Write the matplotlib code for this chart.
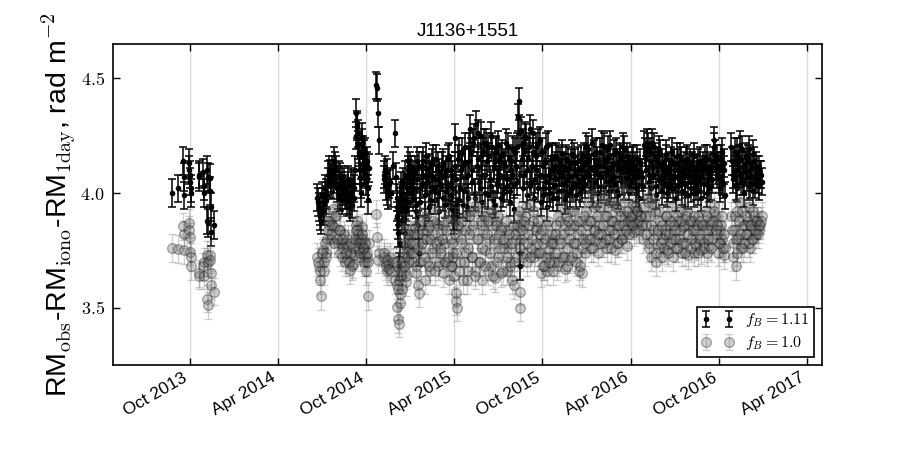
import datetime as dt
import matplotlib
matplotlib.use("Agg")
import matplotlib.pyplot as plt
import matplotlib.dates as mdates
from matplotlib.ticker import FormatStrFormatter

plt.rcParams['mathtext.fontset'] = 'cm'
plt.rcParams['font.family'] = ['Liberation Sans', 'DejaVu Sans']

# days counted from 2013-10-01
base_date = dt.date(2013, 10, 1)

days_s1 = [-36, -25, -14, -13, -12, -2, -1, 0, 1, 2, 3, 18, 19, 28, 29, 30, 35, 36, 37, 38,
           41, 42, 43, 44, 50]
rm111_s1 = [4.00, 4.02, 4.14, 4.07, 3.99, 4.13, 4.10, 4.08, 4.05, 4.02, 4.00, 4.08, 4.07, 4.09, 4.03,
            4.00, 4.10, 3.88, 3.87, 4.07, 4.065, 4.01, 3.94, 3.83, 3.86]
rm100_s1 = [3.76, 3.755, 3.855, 3.82, 3.75, 3.87, 3.84, 3.81, 3.745, 3.72, 3.68, 3.65, 3.64, 3.68, 3.64,
            3.70, 3.73, 3.54, 3.51, 3.70, 3.73, 3.71, 3.65, 3.60, 3.57]

days_s2 = [264, 267, 270, 272, 275, 278, 281, 284, 287,
           290, 293, 296, 299, 302, 306, 310, 313, 316, 319,
           322, 325, 328, 331, 334, 337, 340,
           344, 346, 348, 350, 352, 354,
           356, 358, 360, 362, 364, 366, 368, 371,
           385, 387, 389, 391,
           402, 405, 408, 411, 414, 424, 426,
           428, 430, 432, 434, 436, 438, 440, 442, 444, 446, 448, 450, 452, 454, 457]
rm111_s2 = [3.98, 3.94, 3.90, 3.88, 3.96, 3.92, 4.00, 3.99, 4.05,
            4.085, 4.065, 4.035, 4.14, 4.10, 3.99, 4.07, 4.03, 3.97, 4.05,
            4.02, 3.96, 4.06, 3.94, 4.00, 4.04, 3.98,
            4.35, 4.29, 4.21, 4.18, 4.07, 4.00,
            4.245, 4.19, 4.17, 4.115, 4.08, 4.14, 3.97, 4.11,
            4.47, 4.46, 4.35, 4.23,
            4.08, 4.10, 4.01, 3.99, 4.05, 4.26, 4.07,
            3.94, 3.90, 3.825, 3.68, 3.96, 4.03, 3.99, 3.94, 3.90, 3.825, 3.94, 4.00, 4.14, 4.085, 4.10]
rm100_s2 = [3.72, 3.68, 3.66, 3.55, 3.75, 3.70, 3.74, 3.80, 3.88,
            3.88, 3.80, 3.93, 3.85, 3.90, 3.78, 3.84, 3.78, 3.72, 3.82,
            3.78, 3.71, 3.80, 3.665, 3.74, 3.69, 3.76,
            3.86, 3.88, 3.80, 3.75, 3.72, 3.78,
            3.85, 3.80, 3.76, 3.73, 3.70, 3.72, 3.55, 3.78,
            3.91, 3.81, 3.71, 3.74,
            3.74, 3.70, 3.66, 3.69, 3.72, 3.62, 3.70,
            3.60, 3.505, 3.45, 3.43, 3.56, 3.64, 3.70, 3.85, 3.72, 3.66, 3.61, 3.76, 3.80, 3.75, 3.82]

days_s2b = [266, 269, 274, 277, 280, 283, 286, 289,
            292, 295, 298, 301, 304, 308, 312, 315, 318, 321,
            324, 327, 330, 333, 336, 339, 342, 345,
            347, 349, 351, 353, 355, 357, 359, 361, 363, 365, 367, 369,
            403, 406, 409, 412, 416, 420,
            429, 431, 433, 435, 437, 439, 441, 443, 445, 447, 449, 451, 453, 455, 456, 458]
rm111_s2b = [3.96, 3.92, 3.99, 3.94, 4.02, 3.97, 4.08, 4.10,
             4.04, 4.10, 4.06, 4.12, 4.02, 4.08, 3.98, 4.06, 4.01, 3.99,
             3.99, 4.03, 3.97, 4.05, 3.95, 4.02, 4.10, 4.25,
             4.30, 4.26, 4.16, 4.10, 4.04, 4.22, 4.13, 4.09, 4.18, 4.05, 4.12, 4.02,
             4.06, 4.03, 4.09, 4.04, 4.00, 4.12,
             3.98, 3.86, 3.92, 3.78, 4.00, 3.88, 4.05, 3.97, 4.08, 3.92, 4.02, 4.10, 3.96, 4.12, 4.06, 4.00]
rm100_s2b = [3.70, 3.62, 3.74, 3.66, 3.78, 3.72, 3.84, 3.86,
             3.82, 3.86, 3.78, 3.90, 3.80, 3.84, 3.74, 3.80, 3.76, 3.70,
             3.74, 3.77, 3.70, 3.78, 3.68, 3.73, 3.80, 3.84,
             3.84, 3.82, 3.78, 3.74, 3.80, 3.82, 3.76, 3.70, 3.78, 3.66, 3.74, 3.70,
             3.72, 3.68, 3.71, 3.67, 3.66, 3.70,
             3.68, 3.58, 3.62, 3.52, 3.66, 3.58, 3.74, 3.68, 3.78, 3.64, 3.72, 3.82, 3.70, 3.84, 3.78, 3.74]

days_s3 = [460, 463, 466, 469, 471, 473, 475, 477, 480, 483, 486, 489, 492, 495, 498, 501, 504, 507, 510, 513, 516,
           519, 522, 525, 528, 531, 534, 537, 540, 543, 545, 547,
           550, 551, 552, 554, 557, 560, 563, 566, 569, 572, 575, 578,
           581, 584, 587, 590, 593, 596, 599, 602, 605, 608, 611, 614, 617, 620, 623, 626, 629, 632, 635, 638,
           641, 644, 647, 650,
           653, 656, 659, 662, 665, 668, 671, 674, 677, 680, 682, 683, 684, 686,
           689, 692, 695, 698, 701, 704, 707, 710, 713, 716, 719, 722]
rm111_s3 = [4.05, 3.98, 4.10, 3.95, 4.14, 3.86, 3.74, 4.02, 4.12, 4.08, 3.99, 4.16, 4.05, 4.11, 3.97, 4.13, 4.06,
            4.02, 4.15, 4.00, 4.09,
            4.04, 4.12, 3.98, 4.08, 4.01, 4.15, 3.96, 4.10, 3.93, 3.90, 3.88,
            4.24, 3.95, 3.92, 3.90, 4.18, 4.02, 4.12, 3.95, 4.20, 4.07, 3.98, 4.14,
            4.28, 4.10, 4.22, 4.00, 4.30, 4.15, 4.05, 4.25, 3.96, 4.18, 4.08, 4.22, 3.99, 4.16, 4.03, 4.20, 4.11,
            3.95, 4.19, 4.06, 4.14, 3.98, 4.17, 4.02,
            4.12, 4.03, 4.20, 3.96, 4.14, 4.08, 3.93, 4.18, 4.05, 4.33, 4.40, 3.74, 3.68, 4.27,
            4.22, 4.08, 4.25, 3.99, 4.15, 4.28, 4.05, 4.18, 3.98, 4.20, 4.10, 4.02]
rm100_s3 = [3.78, 3.70, 3.85, 3.65, 3.82, 3.60, 3.565, 3.75, 3.88, 3.80, 3.72, 3.90, 3.70, 3.85, 3.66, 3.82, 3.76,
            3.93, 3.87, 3.68, 3.79,
            3.74, 3.84, 3.65, 3.78, 3.70, 3.88, 3.62, 3.80, 3.68, 3.72, 3.64,
            3.88, 3.565, 3.53, 3.50, 3.85, 3.70, 3.78, 3.62, 3.90, 3.74, 3.66, 3.82,
            3.92, 3.72, 3.86, 3.64, 3.95, 3.80, 3.70, 3.88, 3.62, 3.84, 3.75, 3.90, 3.66, 3.80, 3.68, 3.86, 3.78,
            3.63, 3.88, 3.72, 3.82, 3.65, 3.85, 3.76,
            3.78, 3.66, 3.84, 3.70, 3.76, 3.62, 3.60, 3.82, 3.72, 3.90, 3.85, 3.57, 3.50, 3.80,
            3.86, 3.74, 3.90, 3.70, 3.82, 3.95, 3.76, 3.88, 3.72, 3.85, 3.78, 3.74]

days_s3b = [462, 465, 468, 471, 474, 477, 480, 483, 486, 489,
            492, 495, 498, 501, 504, 507, 510, 513, 516, 519,
            522, 525, 528, 531, 534, 537, 540, 543, 546, 549,
            552, 555, 558, 561, 564, 567, 570, 573, 576, 579,
            582, 585, 588, 591, 594, 597, 600, 603, 606, 609,
            612, 615, 618, 621, 624, 627, 630, 633, 636, 639,
            642, 645, 648, 651, 654, 657, 660, 663, 666, 669,
            672, 675, 678, 681, 684, 687, 690, 693, 696, 699,
            702, 705, 708, 711, 714, 717, 720]
rm111_s3b = [4.08, 4.02, 3.92, 4.06, 4.12, 3.96, 4.04, 4.14, 3.90, 4.07,
             4.10, 3.94, 4.08, 4.01, 4.15, 3.97, 4.06, 4.12, 3.92, 4.04,
             4.07, 4.13, 3.95, 4.10, 4.03, 4.16, 3.99, 4.08, 4.02, 4.12,
             4.06, 4.15, 3.97, 4.10, 4.18, 4.01, 4.13, 3.94, 4.08, 4.20,
             4.18, 4.05, 4.24, 3.98, 4.12, 4.26, 4.02, 4.16, 4.08, 4.22,
             4.00, 4.14, 4.20, 4.06, 4.25, 3.97, 4.12, 4.18, 4.04, 4.21,
             4.08, 4.16, 4.00, 4.13, 4.22, 4.06, 4.15, 4.01, 4.10, 4.19,
             4.04, 4.12, 4.20, 4.26, 4.08, 4.15, 4.02, 4.18, 4.24, 4.10,
             4.20, 4.03, 4.12, 4.26, 4.06, 4.16, 4.22]
rm100_s3b = [3.74, 3.82, 3.68, 3.76, 3.86, 3.70, 3.78, 3.84, 3.62, 3.80,
             3.84, 3.68, 3.80, 3.74, 3.88, 3.66, 3.78, 3.86, 3.70, 3.76,
             3.80, 3.86, 3.70, 3.84, 3.72, 3.90, 3.68, 3.78, 3.74, 3.82,
             3.74, 3.86, 3.66, 3.80, 3.88, 3.70, 3.84, 3.62, 3.76, 3.90,
             3.84, 3.72, 3.92, 3.66, 3.80, 3.94, 3.70, 3.86, 3.76, 3.90,
             3.68, 3.82, 3.88, 3.74, 3.92, 3.64, 3.80, 3.86, 3.70, 3.90,
             3.76, 3.84, 3.66, 3.80, 3.88, 3.72, 3.82, 3.68, 3.78, 3.86,
             3.70, 3.80, 3.86, 3.92, 3.76, 3.84, 3.72, 3.88, 3.94, 3.78,
             3.86, 3.72, 3.80, 3.92, 3.74, 3.84, 3.88]

days_s4 = [725, 728, 731, 734, 737, 740, 743, 746, 749,
           752, 755, 758, 761, 764, 767, 770, 773, 776, 779, 782, 785, 788, 791, 794, 797, 800, 803, 806, 809,
           812, 815, 818,
           821, 824, 827, 830, 833, 836, 839, 842, 845, 848, 851, 854, 857, 860, 863, 866, 869, 872, 875, 878,
           881, 884, 887, 890, 893, 896, 899, 902, 905, 908,
           911, 914, 917, 920, 923, 926, 930, 934, 938]
rm111_s4 = [4.23, 3.96, 4.12, 4.02, 4.20, 3.94, 4.08, 4.00, 4.15,
            4.10, 4.03, 4.16, 3.98, 4.09, 4.14, 4.01, 4.12, 3.97, 4.15, 4.06, 4.11, 4.00, 4.17, 4.04, 4.13, 3.99,
            4.10, 4.05, 4.15, 4.02, 4.12, 4.07,
            4.20, 4.08, 4.15, 4.02, 4.22, 4.10, 4.05, 4.18, 4.00, 4.12, 4.07, 4.21, 4.03, 4.14, 4.09, 4.19, 4.01,
            4.11, 4.06, 4.17, 4.04, 4.13, 3.99, 4.16, 4.08, 4.20, 4.03, 4.12, 4.06, 4.14,
            4.12, 4.05, 4.15, 4.08, 4.02, 4.10, 3.98, 4.09, 4.03]
rm100_s4 = [3.82, 3.65, 3.78, 3.68, 3.86, 3.66, 3.75, 3.72, 3.80,
            3.78, 3.70, 3.86, 3.68, 3.80, 3.88, 3.72, 3.82, 3.67, 3.90, 3.76, 3.84, 3.71, 3.92, 3.78, 3.86, 3.70,
            3.82, 3.66, 3.88, 3.65, 3.80, 3.74,
            3.92, 3.80, 3.88, 3.76, 4.00, 3.84, 3.79, 3.95, 3.74, 3.86, 3.82, 3.98, 3.78, 3.90, 3.76, 3.94, 3.80,
            3.88, 3.84, 3.96, 3.75, 3.86, 3.78, 3.92, 3.80, 4.02, 3.82, 3.90, 3.77, 3.88,
            3.90, 3.86, 3.95, 3.83, 3.87, 3.92, 3.84, 3.90, 3.80]

days_s4b = [726, 729, 732, 735, 738, 741, 744, 747, 750, 753,
            756, 759, 762, 765, 768, 771, 774, 777, 780, 783,
            786, 789, 792, 795, 798, 801, 804, 807, 810, 813,
            816, 819, 822, 825, 828, 831, 834, 837, 840, 843,
            846, 849, 852, 855, 858, 861, 864, 867, 870, 873,
            876, 879, 882, 885, 888, 891, 894, 897, 900, 903,
            906, 909, 912, 915, 918, 921, 924, 927, 930, 933,
            936]
rm111_s4b = [4.08, 4.18, 3.99, 4.13, 4.05, 4.21, 4.02, 4.10, 4.16, 3.98,
             4.12, 4.06, 4.15, 4.01, 4.09, 4.17, 4.04, 4.11, 3.99, 4.14,
             4.07, 4.13, 4.02, 4.16, 4.08, 4.03, 4.14, 4.00, 4.11, 4.06,
             4.16, 4.04, 4.13, 4.19, 4.06, 4.11, 4.00, 4.17, 4.09, 4.14,
             4.08, 4.18, 4.03, 4.12, 4.20, 4.05, 4.15, 4.10, 4.21, 4.02,
             4.13, 4.07, 4.18, 4.01, 4.11, 4.15, 4.05, 4.12, 4.19, 4.08,
             4.16, 4.03, 4.10, 4.14, 4.06, 4.12, 4.00, 4.15, 4.08, 4.13,
             4.07]
rm100_s4b = [3.74, 3.84, 3.68, 3.80, 3.72, 3.88, 3.70, 3.78, 3.82, 3.66,
             3.82, 3.74, 3.90, 3.70, 3.78, 3.94, 3.72, 3.86, 3.68, 3.88,
             3.80, 3.86, 3.72, 3.92, 3.78, 3.74, 3.88, 3.68, 3.84, 3.76,
             3.90, 3.78, 3.86, 3.96, 3.80, 3.88, 3.76, 3.94, 3.84, 3.90,
             3.82, 3.94, 3.78, 3.86, 3.98, 3.80, 3.90, 3.84, 3.96, 3.76,
             3.88, 3.82, 3.94, 3.78, 3.86, 3.90, 3.80, 3.86, 3.96, 3.84,
             3.92, 3.82, 3.88, 3.90, 3.86, 3.94, 3.84, 3.92, 3.88, 3.90,
             3.86]

days_s5 = [941, 944, 947, 950, 953, 956, 959, 962, 965, 968, 971, 974, 977, 980,
           983, 986, 989, 992, 995, 998, 1001, 1004, 1007, 1010, 1013, 1016, 1019, 1022, 1025, 1028, 1031,
           1034, 1037, 1040, 1043, 1046, 1049, 1052, 1055, 1058, 1061, 1064, 1067, 1070, 1073, 1076, 1079, 1082,
           1086, 1088, 1091, 1094, 1097, 1100, 1103, 1106, 1109,
           1121, 1124, 1127, 1130, 1133, 1136, 1139, 1142, 1145, 1148, 1151, 1154, 1157, 1160, 1163, 1166,
           1169, 1172, 1175, 1178, 1181, 1184]
rm111_s5 = [4.21, 4.15, 4.22, 4.08, 4.18, 4.02, 4.12, 4.20, 3.99, 4.14, 4.06, 4.17, 4.01, 4.10,
            4.08, 4.15, 4.00, 4.12, 4.04, 4.18, 4.02, 4.10, 3.98, 4.13, 4.06, 4.16, 4.01, 4.09, 4.04, 4.14, 3.99,
            4.11, 4.05, 4.12, 4.00, 4.08, 4.03, 4.13, 4.06, 3.98, 4.10, 4.04, 4.15, 4.00, 4.09, 4.02, 4.12, 4.06,
            4.23, 4.17, 4.08, 4.12, 4.02, 4.15, 4.05, 4.10, 3.99,
            4.20, 4.08, 4.14, 4.03, 4.18, 4.10, 4.21, 4.05, 4.12, 4.00, 4.16, 4.07, 4.19, 4.04, 4.11, 4.01,
            4.14, 4.06, 4.10, 4.03, 4.08, 4.05]
rm100_s5 = [3.94, 3.86, 3.98, 3.78, 3.90, 3.72, 3.84, 3.95, 3.70, 3.82, 3.76, 3.88, 3.72, 3.80,
            3.82, 3.90, 3.75, 3.86, 3.78, 3.94, 3.72, 3.84, 3.76, 3.88, 3.80, 3.92, 3.74, 3.85, 3.78, 3.90, 3.73,
            3.86, 3.80, 3.88, 3.74, 3.84, 3.77, 3.90, 3.80, 3.75, 3.86, 3.78, 3.92, 3.74, 3.84, 3.77, 3.88, 3.80,
            3.95, 3.90, 3.82, 3.74, 3.78, 3.86, 3.80, 3.73, 3.76,
            3.90, 3.72, 3.84, 3.68, 3.92, 3.80, 3.96, 3.76, 3.86, 3.78, 3.90, 3.82, 3.94, 3.76, 3.86, 3.80,
            3.90, 3.82, 3.88, 3.84, 3.86, 3.90]

days_s5b = [942, 945, 948, 951, 954, 957, 960, 963, 966, 969,
            972, 975, 978, 981, 984, 987, 990, 993, 996, 999,
            1002, 1005, 1008, 1011, 1014, 1017, 1020, 1023, 1026, 1029,
            1032, 1035, 1038, 1041, 1044, 1047, 1050, 1053, 1056, 1059,
            1062, 1065, 1068, 1071, 1074, 1077, 1080, 1083, 1086, 1089,
            1092, 1095, 1098, 1101, 1104, 1107,
            1122, 1125, 1128, 1131, 1134, 1137, 1140, 1143, 1146, 1149,
            1152, 1155, 1158, 1161, 1164, 1167, 1170, 1173, 1176, 1179,
            1182]
rm111_s5b = [4.18, 4.10, 4.20, 4.05, 4.14, 4.22, 4.08, 4.16, 4.03, 4.12,
             4.19, 4.06, 4.13, 4.04, 4.11, 4.17, 4.02, 4.09, 4.14, 4.06,
             4.13, 4.07, 4.16, 4.03, 4.10, 4.14, 4.05, 4.12, 4.00, 4.15,
             4.08, 4.13, 4.02, 4.10, 4.16, 4.05, 4.11, 4.01, 4.14, 4.07,
             4.12, 4.04, 4.10, 4.15, 4.06, 4.11, 4.03, 4.14, 4.20, 4.10,
             4.15, 4.06, 4.12, 4.18, 4.04, 4.13,
             4.14, 4.06, 4.18, 4.10, 4.02, 4.15, 4.08, 4.19, 4.05, 4.12,
             4.09, 4.15, 4.03, 4.13, 4.07, 4.17, 4.04, 4.12, 4.06, 4.10,
             4.08]
rm100_s5b = [3.90, 3.82, 3.96, 3.76, 3.86, 3.98, 3.80, 3.92, 3.74, 3.84,
             3.92, 3.78, 3.86, 3.76, 3.84, 3.90, 3.74, 3.82, 3.88, 3.80,
             3.86, 3.80, 3.90, 3.76, 3.84, 3.88, 3.78, 3.86, 3.74, 3.92,
             3.82, 3.88, 3.76, 3.84, 3.90, 3.78, 3.86, 3.74, 3.88, 3.80,
             3.86, 3.76, 3.84, 3.90, 3.80, 3.86, 3.76, 3.88, 3.92, 3.84,
             3.86, 3.78, 3.84, 3.90, 3.76, 3.82,
             3.84, 3.78, 3.90, 3.80, 3.74, 3.88, 3.82, 3.92, 3.76, 3.86,
             3.82, 3.88, 3.78, 3.86, 3.80, 3.92, 3.84, 3.88, 3.82, 3.86,
             3.88]

err_fb111 = 0.06
err_fb100 = 0.06

x_ticks_months = [4, 10]
xlim_dates = (dt.date(2013, 4, 25), dt.date(2017, 5, 2))
ylim_vals = (3.25, 4.65)
y_ticks = [3.5, 4.0, 4.5]

days_all = days_s1 + days_s2 + days_s2b + days_s3 + days_s3b + days_s4 + days_s4b + days_s5 + days_s5b
rm111_all = rm111_s1 + rm111_s2 + rm111_s2b + rm111_s3 + rm111_s3b + rm111_s4 + rm111_s4b + rm111_s5 + rm111_s5b
rm100_all = rm100_s1 + rm100_s2 + rm100_s2b + rm100_s3 + rm100_s3b + rm100_s4 + rm100_s4b + rm100_s5 + rm100_s5b
assert len(days_all) == len(rm111_all) == len(rm100_all), (len(days_all), len(rm111_all), len(rm100_all))
dates = [base_date + dt.timedelta(days=d) for d in days_all]

fig = plt.figure(figsize=(9.13, 4.57), dpi=100)
ax = fig.add_axes([0.1238, 0.2013, 0.7765, 0.7024])

ax.errorbar(dates, rm111_all, yerr=err_fb111, fmt='o', color='k', ms=3, capsize=3,
            elinewidth=1.1, capthick=1.1, label=r'$f_B = 1.11$', zorder=3)
ax.errorbar(dates, rm100_all, yerr=err_fb100, fmt='o', color='0.4', mec='k', ms=7, capsize=3,
            elinewidth=1.0, capthick=1.0, alpha=0.3, label=r'$f_B = 1.0$', zorder=4)

ax.set_xlim(*xlim_dates)
ax.set_ylim(*ylim_vals)
ax.set_yticks(y_ticks)
ax.yaxis.set_major_formatter(FormatStrFormatter(r'$%.1f$'))
ax.xaxis.set_major_locator(mdates.MonthLocator(bymonth=x_ticks_months))
ax.xaxis.set_major_formatter(mdates.DateFormatter('%b %Y'))
ax.xaxis.grid(True, color='0.85', lw=1.0)
ax.set_axisbelow(True)
ax.tick_params(direction='in', top=True, right=True, length=5, width=1)
ax.tick_params(axis='y', labelsize=13, pad=6)
ax.tick_params(axis='x', labelsize=12.5)
plt.setp(ax.get_xticklabels(), rotation=30, ha='right')
for s in ax.spines.values():
    s.set_linewidth(1.2)

ax.set_title('J1136+1551', fontsize=13.5, pad=6)
ax.set_ylabel(r'RM$_{\rm obs}$-RM$_{\rm iono}$-RM$_{\rm 1day}$, rad m$^{-2}$', fontsize=20.5, labelpad=2)

leg = ax.legend(loc='lower right', numpoints=2, fancybox=False, fontsize=11.5,
                edgecolor='k', framealpha=1, handlelength=2.0, borderpad=0.3, labelspacing=0.3,
                handletextpad=0.7)
leg.get_frame().set_linewidth(1.2)

fig.savefig('out.png', dpi=100)
